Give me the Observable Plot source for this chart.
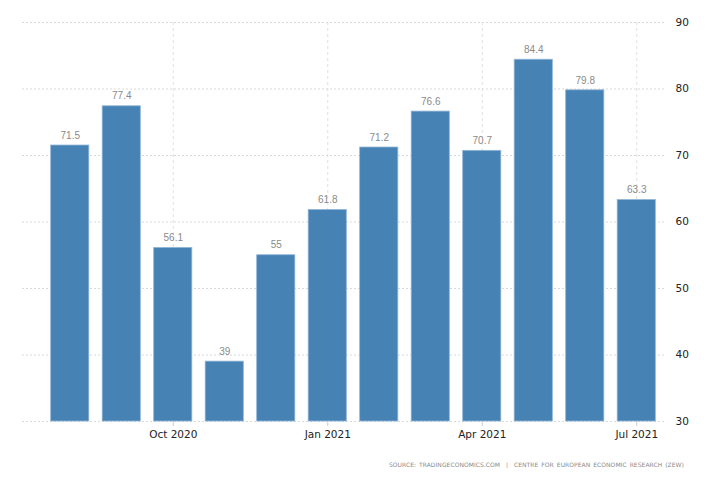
<!DOCTYPE html>
<html>
<head>
<meta charset="utf-8">
<script src="https://cdn.jsdelivr.net/npm/d3@7"></script>
<script src="https://cdn.jsdelivr.net/npm/@observablehq/plot@0.6"></script>
<style>
  html, body { margin: 0; padding: 0; background: #fff; }
  #chart { width: 728px; }
  #caption {
    width: 728px; box-sizing: border-box; text-align: right; padding-right: 44px;
    margin-top: 16px; font-family: "DejaVu Sans", sans-serif; font-size: 6px;
    letter-spacing: 0.05px; color: #8a8a8a; word-spacing: 1px;
  }
</style>
</head>
<body>
<div id="chart"></div>
<div id="caption">SOURCE: TRADINGECONOMICS.COM &nbsp;|&nbsp; CENTRE FOR EUROPEAN ECONOMIC RESEARCH (ZEW)</div>
<script>
const months = ["Aug 2020","Sep 2020","Oct 2020","Nov 2020","Dec 2020","Jan 2021","Feb 2021","Mar 2021","Apr 2021","May 2021","Jun 2021","Jul 2021"];
const values = [71.5, 77.4, 56.1, 39, 55, 61.8, 71.2, 76.6, 70.7, 84.4, 79.8, 63.3];
const tickLabels = ["Oct 2020","Jan 2021","Apr 2021","Jul 2021"];
const yTicks = [30, 40, 50, 60, 70, 80, 90];

const data = months.map((m, i) => ({month: m, value: values[i]}));

const marginLeft = 44, marginRight = 66;
const chart = Plot.plot({
  width: 728,
  height: 445,
  marginTop: 22,
  marginBottom: 24,
  marginLeft,
  marginRight,
  style: {fontFamily: "DejaVu Sans, sans-serif", fontSize: "10px", color: "#333"},
  x: {domain: months, paddingInner: 0.26, paddingOuter: 0.13, round: false, label: null, align: 0.5},
  y: {domain: [30, 90], label: null},
  marks: [
    Plot.ruleY(yTicks, {stroke: "#d9d9d9", strokeDasharray: "2,2", insetLeft: -(marginLeft - 22), insetRight: -4}),
    Plot.ruleX(tickLabels, {x: d => d, stroke: "#e0e0e0", strokeDasharray: "3,3"}),
    Plot.barY(data, {x: "month", y1: 30, y2: "value", fill: "#4682b4", stroke: "#8fb3d6", strokeWidth: 0.8}),
    Plot.text(data, {x: "month", y: "value", text: d => String(d.value), dy: -10, fill: "#8a8a8a", fontSize: 10, fontFamily: "Liberation Sans Narrow, Liberation Sans, sans-serif"}),
    Plot.axisY(yTicks, {anchor: "right", tickSize: 0, tickPadding: 13, fill: "#222", fontSize: 10.5, label: null}),
    Plot.axisX(tickLabels, {anchor: "bottom", tickSize: 5, stroke: "#ccc", tickPadding: 4, fill: "#222", fontSize: 10.5, label: null})
  ]
});
document.getElementById("chart").appendChild(chart);
</script>
</body>
</html>
